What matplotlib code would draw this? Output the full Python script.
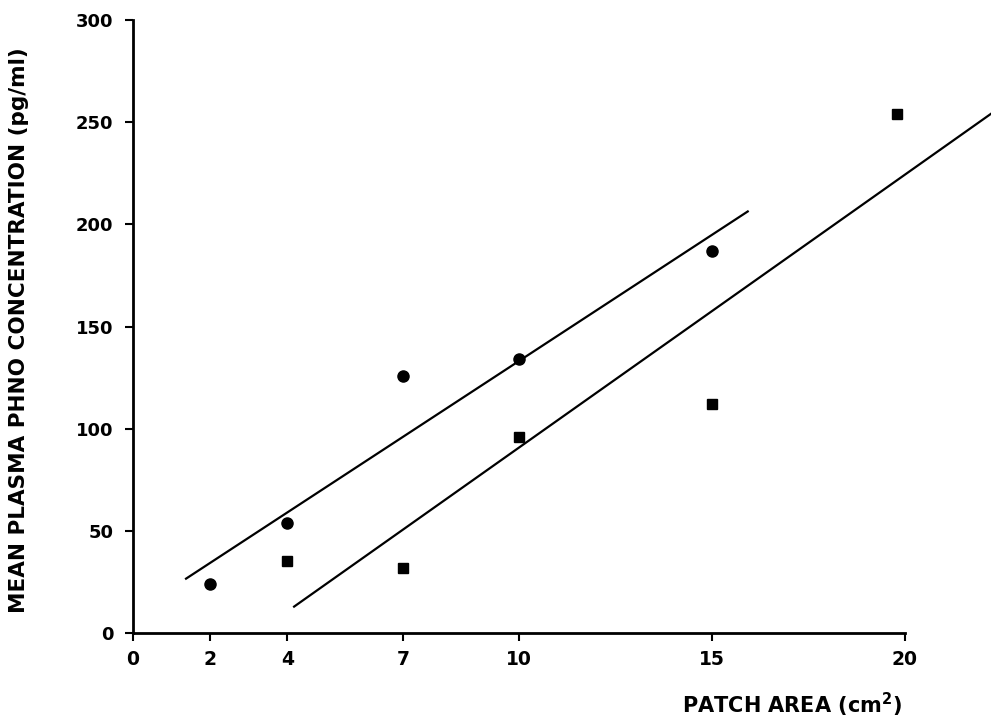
import matplotlib
matplotlib.use("Agg")
import matplotlib.pyplot as plt

# datos
area_circulos = [2, 4, 7, 10, 15]
conc_circulos = [24, 54, 126, 134, 187]
area_cuadros = [4, 7, 10, 15, 19.8]
conc_cuadros = [35, 32, 96, 112, 254]

# rectas de regresion (extremos)
recta1_x = [1.35, 15.95]
recta1_y = [26.3, 206.6]
recta2_x = [4.15, 22.25]
recta2_y = [12.6, 254.4]

ticks_x = [0, 2, 4, 7, 10, 15, 20]
ticks_y = [0, 50, 100, 150, 200, 250, 300]

plt.rcParams['font.family'] = ['DejaVu Sans']
plt.rcParams['font.weight'] = 'bold'

fig = plt.figure(figsize=(9.91, 7.18), dpi=100)
ax = fig.add_axes([133/991, 85/718, 772/991, 613/718])

ax.plot(recta1_x, recta1_y, color="black", lw=1.6, clip_on=False, solid_capstyle="butt")
ax.plot(recta2_x, recta2_y, color="black", lw=1.6, clip_on=False, solid_capstyle="butt")
ax.plot(area_circulos, conc_circulos, "o", color="black", ms=8, clip_on=False)
ax.plot(area_cuadros, conc_cuadros, "s", color="black", ms=6.5, clip_on=False)

ax.set_xlim(0, 20)
ax.set_ylim(0, 300)
ax.set_xticks(ticks_x)
ax.set_yticks(ticks_y)
ax.set_xticklabels([str(t) for t in ticks_x], fontsize=13.5, fontweight='bold')
ax.set_yticklabels([str(t) for t in ticks_y], fontsize=13, fontweight='bold')

for lado in ["top", "right"]:
    ax.spines[lado].set_visible(False)
for lado in ["left", "bottom"]:
    ax.spines[lado].set_linewidth(2)

ax.tick_params(axis="x", direction="out", length=6, width=1.5, pad=6)
ax.tick_params(axis="y", direction="out", length=6, width=1.5, pad=8)

fig.text(19/991, 1 - 330/718, "MEAN PLASMA PHNO CONCENTRATION (pg/ml)", rotation=90,
         ha="center", va="center", fontsize=15.5, fontweight='bold')
fig.text(792/991, 1 - 705/718, "PATCH AREA (cm$^\\mathbf{2}$)", ha="center", va="center",
         fontsize=15, fontweight='bold')

fig.savefig("out.png", dpi=100)
